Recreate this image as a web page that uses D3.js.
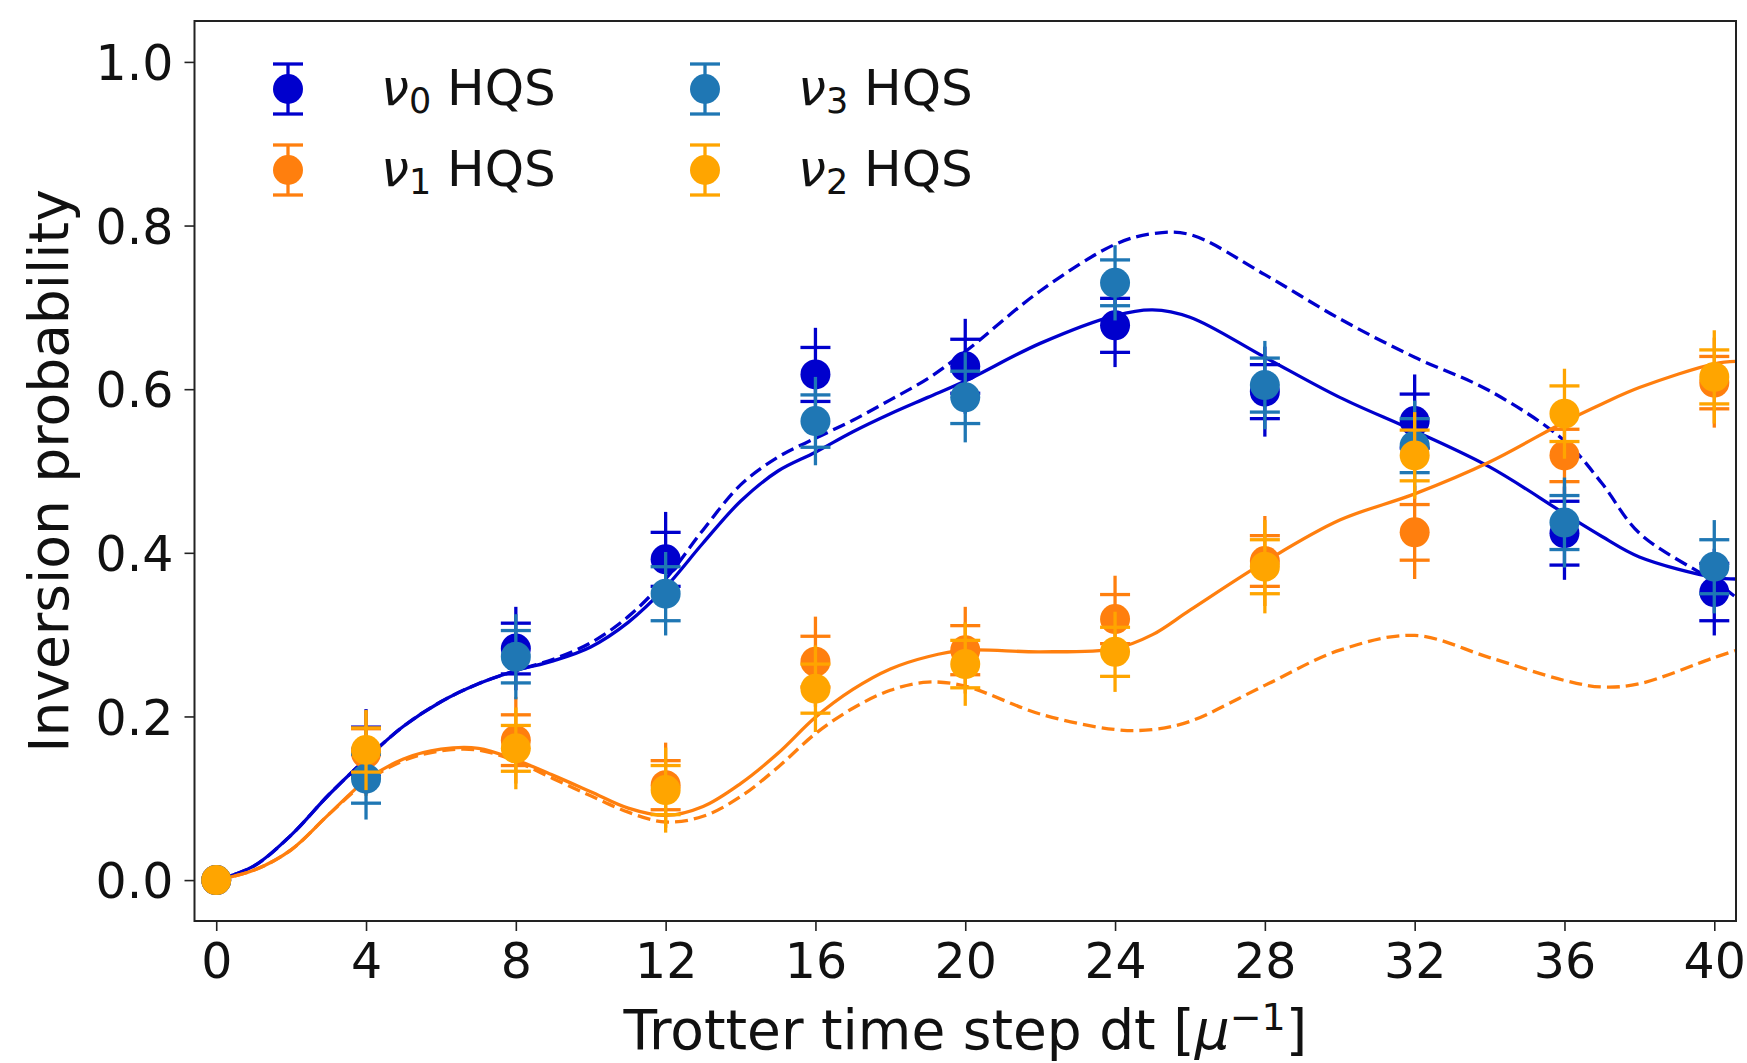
<!DOCTYPE html>
<html>
<head>
<meta charset="utf-8">
<script src="https://cdn.jsdelivr.net/npm/d3@7"></script>
<style>
  body { margin: 0; background: #fff; }
  svg { display: block; font-family: "DejaVu Sans", sans-serif; }
</style>
</head>
<body>
<div id="chart"></div>
<script>

// measured points (Trotter step dt)
const steps = [0, 4, 8, 12, 16, 20, 24, 28, 32, 36, 40];

const nu0 = [0, 0.157, 0.283, 0.392, 0.618, 0.628, 0.678, 0.597, 0.561, 0.424, 0.352];
const nu1 = [0, 0.155, 0.171, 0.116, 0.267, 0.281, 0.319, 0.390, 0.425, 0.519, 0.608];
const nu3 = [0, 0.124, 0.273, 0.350, 0.561, 0.590, 0.730, 0.605, 0.531, 0.437, 0.383];
const nu2 = [0, 0.159, 0.161, 0.110, 0.234, 0.264, 0.279, 0.383, 0.519, 0.570, 0.615];

// error bars: capped part and full whisker
const nu0Err = [0, 0.030, 0.031, 0.033, 0.033, 0.033, 0.033, 0.033, 0.033, 0.039, 0.035];
const nu0Whisker = [0, 0.052, 0.051, 0.058, 0.057, 0.058, 0.051, 0.055, 0.057, 0.057, 0.053];
const nu1Err = [0, 0.030, 0.031, 0.030, 0.031, 0.030, 0.030, 0.031, 0.034, 0.032, 0.032];
const nu1Whisker = [0, 0.052, 0.053, 0.052, 0.055, 0.053, 0.053, 0.055, 0.057, 0.055, 0.055];
const nu3Err = [0, 0.030, 0.032, 0.033, 0.032, 0.032, 0.028, 0.033, 0.033, 0.033, 0.033];
const nu3Whisker = [0, 0.050, 0.052, 0.051, 0.054, 0.055, 0.046, 0.054, 0.055, 0.055, 0.057];
const nu2Err = [0, 0.027, 0.028, 0.030, 0.030, 0.029, 0.030, 0.033, 0.031, 0.034, 0.033];
const nu2Whisker = [0, 0.049, 0.050, 0.052, 0.053, 0.051, 0.049, 0.057, 0.053, 0.055, 0.057];

// theory curves
const tCurve = [0, 1, 2, 3, 4, 5, 6, 7, 8, 9, 10, 11, 12, 13, 14, 15, 16, 17, 18, 19, 20,
                22, 24, 25, 26, 28, 30, 32, 34, 36, 37, 38, 40, 40.6];
const nu0Exact = [0, 0.017, 0.055, 0.104, 0.148, 0.188, 0.218, 0.240, 0.256, 0.268, 0.285, 0.315,
                  0.358, 0.412, 0.463, 0.500, 0.523, 0.548, 0.570, 0.590, 0.610,
                  0.656, 0.690, 0.697, 0.688, 0.639, 0.590, 0.549, 0.505, 0.448, 0.420, 0.395, 0.370, 0.368];
const nu0Trotter = [0, 0.017, 0.055, 0.104, 0.148, 0.188, 0.218, 0.240, 0.256, 0.270, 0.290, 0.322,
                    0.368, 0.428, 0.483, 0.517, 0.540, 0.562, 0.587, 0.613, 0.646,
                    0.720, 0.777, 0.790, 0.789, 0.740, 0.686, 0.639, 0.598, 0.537, 0.485, 0.424, 0.365, 0.345];
const nu1Exact = [0, 0.012, 0.037, 0.080, 0.122, 0.148, 0.160, 0.161, 0.147, 0.128, 0.108, 0.088,
                  0.079, 0.090, 0.118, 0.155, 0.199, 0.233, 0.258, 0.273, 0.281,
                  0.279, 0.283, 0.300, 0.330, 0.389, 0.440, 0.472, 0.511, 0.560, 0.582, 0.602, 0.631, 0.634];
const nu1Trotter = [0, 0.012, 0.037, 0.080, 0.120, 0.146, 0.158, 0.159, 0.145, 0.124, 0.103, 0.083,
                    0.071, 0.078, 0.102, 0.138, 0.179, 0.210, 0.232, 0.242, 0.237,
                    0.203, 0.184, 0.184, 0.194, 0.238, 0.281, 0.299, 0.272, 0.244, 0.236, 0.240, 0.272, 0.281];

const xTicks = [0, 4, 8, 12, 16, 20, 24, 28, 32, 36, 40];
const yTicks = [0.0, 0.2, 0.4, 0.6, 0.8, 1.0];

const series = [
  { sub: "0", color: "#0000cd", values: nu0, err: nu0Err, whisker: nu0Whisker },
  { sub: "1", color: "#ff7f0e", values: nu1, err: nu1Err, whisker: nu1Whisker },
  { sub: "3", color: "#1f77b4", values: nu3, err: nu3Err, whisker: nu3Whisker },
  { sub: "2", color: "#ffa500", values: nu2, err: nu2Err, whisker: nu2Whisker },
];

const curves = [
  { values: nu0Exact, color: "#0000cd", dash: null },
  { values: nu0Trotter, color: "#0000cd", dash: "13,6" },
  { values: nu1Exact, color: "#ff7f0e", dash: null },
  { values: nu1Trotter, color: "#ff7f0e", dash: "13,6" },
];


class InversionPlot {

  constructor(element) {
    this.element = element;
    this.width = 1747;
    this.height = 1063;
    this.margin = {top: 21, right: 11, bottom: 142, left: 194.5};
    this.pointSize = 15;
    this.capHalf = 15;
    this.draw();
  }

  draw() {
    this.svg = d3.select(this.element)
      .append("svg")
      .attr("width", this.width)
      .attr("height", this.height);

    this._createScales();
    this._drawCurves();
    this._drawPoints();
    this._drawAxes();
    this._drawLegend();
  }

  _createScales() {
    this.x = d3.scaleLinear()
      .domain([-0.58, 40.58])
      .range([this.margin.left, this.width - this.margin.right]);

    this.y = d3.scaleLinear()
      .domain([-0.05, 1.05])
      .range([this.height - this.margin.bottom, this.margin.top]);
  }

  _drawCurves() {
    const [x0, x1] = this.x.range();
    const [y0, y1] = this.y.range();

    this.svg.append("clipPath")
      .attr("id", "plot-clip")
      .append("rect")
      .attr("x", x0).attr("y", y1)
      .attr("width", x1 - x0).attr("height", y0 - y1);

    const line = d3.line()
      .x(d => this.x(d[0]))
      .y(d => this.y(d[1]))
      .curve(d3.curveCatmullRom.alpha(0.5));

    this.svg.append("g")
      .attr("clip-path", "url(#plot-clip)")
      .selectAll("path")
      .data(curves)
      .join("path")
        .attr("fill", "none")
        .attr("stroke", d => d.color)
        .attr("stroke-width", 3.3)
        .attr("stroke-dasharray", d => d.dash)
        .attr("d", d => line(d3.zip(tCurve, d.values)));
  }

  _drawPoints() {
    series.forEach(s => {
      const pts = steps.map((t, i) => ({
        t, v: s.values[i], e: s.err[i], w: s.whisker[i]
      }));
      const g = this.svg.append("g")
        .attr("stroke", s.color)
        .attr("fill", s.color);

      const bars = pts.filter(d => d.w > 0);

      g.selectAll("line.bar")
        .data(bars)
        .join("line")
          .attr("class", "bar")
          .attr("stroke-width", 3.3)
          .attr("x1", d => this.x(d.t)).attr("x2", d => this.x(d.t))
          .attr("y1", d => this.y(d.v - d.w)).attr("y2", d => this.y(d.v + d.w));

      g.selectAll("line.cap")
        .data(bars.flatMap(d => [{t: d.t, v: d.v - d.e}, {t: d.t, v: d.v + d.e}]))
        .join("line")
          .attr("class", "cap")
          .attr("stroke-width", 3.3)
          .attr("x1", d => this.x(d.t) - this.capHalf)
          .attr("x2", d => this.x(d.t) + this.capHalf)
          .attr("y1", d => this.y(d.v)).attr("y2", d => this.y(d.v));

      g.selectAll("circle")
        .data(pts)
        .join("circle")
          .attr("stroke", "none")
          .attr("cx", d => this.x(d.t))
          .attr("cy", d => this.y(d.v))
          .attr("r", this.pointSize);
    });
  }

  _drawAxes() {
    const [x0, x1] = this.x.range();
    const [y0, y1] = this.y.range();

    const xAxis = g => g
      .attr("transform", `translate(0,${y0})`)
      .call(d3.axisBottom(this.x).tickValues(xTicks).tickSize(10).tickPadding(12)
        .tickFormat(d3.format("d")))
      .call(g => g.select(".domain").remove())
      .call(g => g.selectAll(".tick line").attr("stroke", "#222").attr("stroke-width", 1.6))
      .call(g => g.selectAll(".tick text")
        .attr("fill", "#111").attr("font-size", 49)
        .attr("font-family", "DejaVu Sans"));

    const yAxis = g => g
      .attr("transform", `translate(${x0},0)`)
      .call(d3.axisLeft(this.y).tickValues(yTicks).tickSize(10).tickPadding(11)
        .tickFormat(d3.format(".1f")))
      .call(g => g.select(".domain").remove())
      .call(g => g.selectAll(".tick line").attr("stroke", "#222").attr("stroke-width", 1.6))
      .call(g => g.selectAll(".tick text")
        .attr("dy", "0.36em")
        .attr("fill", "#111").attr("font-size", 49)
        .attr("font-family", "DejaVu Sans"));

    this.svg.append("g").call(xAxis);
    this.svg.append("g").call(yAxis);

    this.svg.append("rect")
      .attr("x", x0).attr("y", y1)
      .attr("width", x1 - x0).attr("height", y0 - y1)
      .attr("fill", "none")
      .attr("stroke", "#222")
      .attr("stroke-width", 2);

    const xLabel = this.svg.append("text")
      .attr("x", (x0 + x1) / 2)
      .attr("y", 1049)
      .attr("text-anchor", "middle")
      .attr("font-size", 55)
      .attr("fill", "#111");
    xLabel.append("tspan").text("Trotter time step dt [");
    xLabel.append("tspan").attr("font-style", "italic").text("μ");
    xLabel.append("tspan").attr("font-size", 38).attr("dy", -19).text("−1");
    xLabel.append("tspan").attr("dy", 19).text("]");

    this.svg.append("text")
      .attr("transform", `translate(68,${(y0 + y1) / 2}) rotate(-90)`)
      .attr("text-anchor", "middle")
      .attr("font-size", 55)
      .attr("fill", "#111")
      .text("Inversion probability");
  }

  _drawLegend() {
    // two columns, filled column-wise like matplotlib (ncol=2)
    const colX = [288, 705];
    const rowY = [89, 170];
    const textGap = 93;

    series.forEach((s, i) => {
      const cx = colX[Math.floor(i / 2)];
      const cy = rowY[i % 2];
      const g = this.svg.append("g")
        .attr("stroke", s.color)
        .attr("fill", s.color);

      g.append("line")
        .attr("stroke-width", 3.3)
        .attr("x1", cx).attr("x2", cx)
        .attr("y1", cy - 25).attr("y2", cy + 25);
      [-25, 25].forEach(dy => g.append("line")
        .attr("stroke-width", 3.3)
        .attr("x1", cx - this.capHalf).attr("x2", cx + this.capHalf)
        .attr("y1", cy + dy).attr("y2", cy + dy));
      g.append("circle")
        .attr("stroke", "none")
        .attr("cx", cx).attr("cy", cy).attr("r", this.pointSize);

      const label = this.svg.append("text")
        .attr("x", cx + textGap)
        .attr("y", cy + 16)
        .attr("font-size", 50)
        .attr("fill", "#111");
      label.append("tspan").attr("font-style", "italic").text("ν");
      label.append("tspan").attr("font-size", 35).attr("dy", 8).text(s.sub);
      label.append("tspan").attr("dy", -8).text(" HQS");
    });
  }

}

new InversionPlot(document.getElementById("chart"));
</script>
</body>
</html>
